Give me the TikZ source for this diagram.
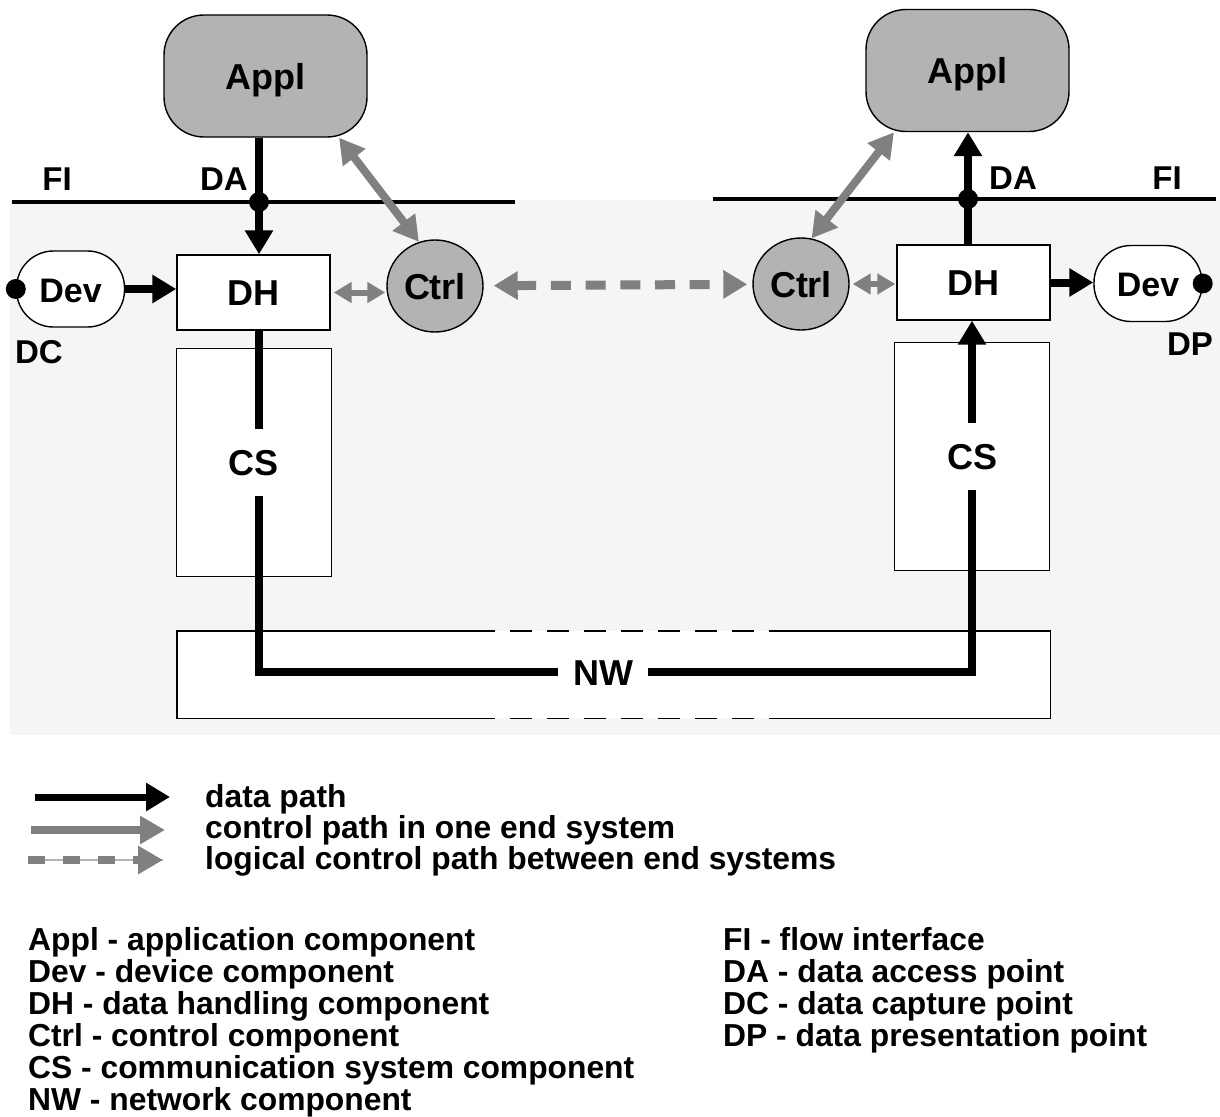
\documentclass[tikz,border=0pt]{standalone}
\usepackage{fontspec}
\setmainfont{Liberation Sans}
\usepackage{tikz}
\usetikzlibrary{arrows.meta, positioning, calc, shapes.geometric}
\definecolor{bggray}{HTML}{F5F5F5}
\definecolor{compgray}{HTML}{B3B3B3}
\definecolor{ctrlgray}{HTML}{808080}
\definecolor{thingray}{HTML}{B4B4B4}
\tikzset{
    x=1pt, y=-1pt, % one unit is one pixel of the layout, y grows downwards
    comp/.style={
            draw,
            line width=1.4pt,
            fill=white,
            inner sep=0pt, % text stays centred, size comes from minimum width/height
            text height=26pt,
            text depth=0pt,
            font=\bfseries\fontsize{36}{36}\selectfont
        },
    appl/.style={comp, fill=compgray, rounded corners=40pt, minimum width=203pt, minimum height=122pt},
    dh/.style={comp, minimum width=153pt, minimum height=75pt},
    ctrl/.style={comp, ellipse, fill=compgray, minimum width=96pt, minimum height=92pt},
    dev/.style={comp, rounded corners=37pt, minimum width=108pt, minimum height=76pt, font=\bfseries\fontsize{34}{34}\selectfont},
    csbox/.style={comp, minimum width=155pt, minimum height=228pt},
    nwbox/.style={fill=white, inner sep=0pt, minimum width=873pt, minimum height=87pt},
    boxline/.style={line width=1.4pt},
    gaplabel/.style={inner xsep=15pt, inner ysep=20pt, text height=26pt, text depth=0pt, font=\bfseries\fontsize{36}{36}\selectfont},
    flabel/.style={inner sep=0pt, text height=24pt, text depth=0pt, font=\bfseries\fontsize{33}{33}\selectfont},
    keytext/.style={anchor=base west, inner sep=0pt, font=\bfseries\fontsize{31.8}{32}\selectfont},
    dapoint/.style={circle, fill=black, inner sep=0pt, minimum size=20pt},
    filine/.style={line width=3.5pt},
    dataline/.style={line width=8pt},
    datapath/.style={line width=8pt, -{Triangle[length=24pt,width=27pt]}},
    ctlpath/.style={line width=8pt, color=ctrlgray, {Triangle[length=25pt,width=27pt]}-{Triangle[length=25pt,width=27pt]}},
    ctlshort/.style={line width=6pt, color=ctrlgray, {Triangle[length=18pt,width=20pt]}-{Triangle[length=18pt,width=20pt]}, shorten <=3pt, shorten >=1pt},
    logpath/.style={line width=9pt, color=ctrlgray, dash pattern=on 20pt off 14.7pt, {Triangle[length=24pt,width=27pt]}-{Triangle[length=24pt,width=27pt]}}
}

\begin{document}
\begin{tikzpicture}
        \useasboundingbox (0,0) rectangle (1220,1116);
        % end systems and flow interfaces
        \fill[bggray] (10,200) rectangle (1220,735);
        \draw[filine] (12,202) -- (515,202);
        \draw[filine] (713,199) -- (1216,199);

        % nodes
        \node[appl] (applL) at (265.5,76) {Appl};
        \node[appl] (applR) at (967.5,70.5) {Appl};
        \node[dh] (dhL) at (253.5,292.5) {DH};
        \node[dh] (dhR) at (973.5,282.5) {DH};
        \node[ctrl] (ctrlL) at (435,286) {Ctrl};
        \node[ctrl] (ctrlR) at (801,284) {Ctrl};
        \node[dev] (devL) at (70.5,289) {Dev};
        \node[dev] (devR) at (1148,283.5) {Dev};
        \node[csbox] (csL) at (254,462.5) {};
        \node[csbox] (csR) at (972,456.5) {};
        \node[nwbox] (nw) at (613.5,674.5) {};
        \node[gaplabel] (csLt) at (csL) {CS};
        \node[gaplabel] (csRt) at (csR) {CS};
        \node[gaplabel] (nwt) at (603,672) {NW};

        \node[flabel] (fiL) at (57,178) {FI};
        \node[flabel] (daLt) at (224,178) {DA};
        \node[flabel] (daRt) at (1013,177) {DA};
        \node[flabel] (fiR) at (1167,177) {FI};
        \node[flabel] (dct) at (39,351) {DC};
        \node[flabel] (dpt) at (1190,343) {DP};

        \coordinate (daL) at (259,202);
        \coordinate (daR) at (968,199);

        % network box, open in the middle
        \draw[boxline] ($(nw.north west)+(296,0)$) -- (nw.north west) -- (nw.south west) -- ++(296,0);
        \draw[boxline] ($(nw.north east)+(-275,0)$) -- (nw.north east) -- (nw.south east) -- ++(-275,0);
        \draw[boxline, dash pattern=on 22pt off 15pt] ($(nw.north west)+(296,0)$) -- ($(nw.north east)+(-275,0)$);
        \draw[boxline, dash pattern=on 22pt off 15pt] ($(nw.south west)+(296,0)$) -- ($(nw.south east)+(-275,0)$);

        % edges
        \draw[datapath] (devL.east) -- (devL.east -| dhL.west);
        \draw[datapath] (applL.south -| daL) -- (dhL.north -| daL);
        \draw[dataline] (dhL.south -| daL) -- (csLt.north -| daL);
        \draw[dataline] (csLt.south -| daL) |- (nwt.west);
        \draw[dataline] (nwt.east) -| (csRt.south);
        \draw[datapath] (csRt.north) -- (dhR.south -| csRt.north);
        \draw[datapath] (dhR.north -| daR) -- (applR.south -| daR);
        \draw[datapath] (dhR.east) -- (dhR.east -| devR.west);

        \draw[ctlpath] (ctrlL.110) -- (applL.-40);
        \draw[ctlpath] (ctrlR.77) -- (applR.220);
        \draw[ctlshort] (dhL.east) -- (dhL.east -| ctrlL.west);
        \draw[ctlshort] (ctrlR.east) -- (ctrlR.east -| dhR.west);
        \draw[logpath, shorten <=10pt, shorten >=5pt] (ctrlL) -- (ctrlR);

        % access, capture and presentation points
        \node[dapoint] (daLdot) at (daL) {};
        \node[dapoint] (daRdot) at (daR) {};
        \node[dapoint] (dcdot) at (devL.west) {};
        \node[dapoint] (dpdot) at (devR.east) {};

        % key
        \node[keytext] (k1t) at (205,807) {data path};
        \node[keytext] (k2t) at (205,838) {control path in one end system};
        \node[keytext] (k3t) at (205,869) {logical control path between end systems};
        \coordinate (k1s) at (35,797);  \coordinate (k1e) at (170,797);
        \coordinate (k2s) at (31,830);  \coordinate (k2e) at (165,830);
        \coordinate (k3s) at (28,860);  \coordinate (k3e) at (163,860);
        \draw[datapath, line width=7pt] (k1s) -- (k1e);
        \draw[ctlpath, -{Triangle[length=25pt,width=27pt]}] (k2s) -- (k2e);
        \draw[line width=1.5pt, thingray] (k3s) -- (k3e);
        \draw[logpath, line width=8pt, dash pattern=on 17pt off 18pt, -{Triangle[length=25pt,width=27pt]}] (k3s) -- (k3e);

        \node[keytext] (n1) at (28,950) {Appl - application component};
        \node[keytext] (n2) at (28,982) {Dev - device component};
        \node[keytext] (n3) at (28,1014) {DH - data handling component};
        \node[keytext] (n4) at (28,1046) {Ctrl - control component};
        \node[keytext] (n5) at (28,1078) {CS - communication system component};
        \node[keytext] (n6) at (28,1110) {NW - network component};
        \node[keytext] (m1) at (723,950) {FI - flow interface};
        \node[keytext] (m2) at (723,982) {DA - data access point};
        \node[keytext] (m3) at (723,1014) {DC - data capture point};
        \node[keytext] (m4) at (723,1046) {DP - data presentation point};

\end{tikzpicture}
\end{document}
